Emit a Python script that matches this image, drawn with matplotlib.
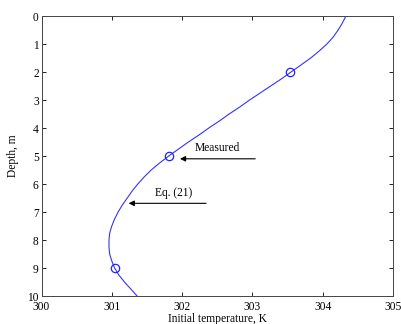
import matplotlib
matplotlib.use('Agg')
import matplotlib.pyplot as plt

plt.rcParams['font.family'] = ['Liberation Serif', 'DejaVu Serif']

# Eq. (21) profile
depth = [0, 0.25, 0.5, 0.75, 1, 1.25, 1.5, 1.75, 2, 2.25, 2.5, 2.75, 3, 3.25, 3.5, 3.75,
         4, 4.25, 4.5, 4.75, 5, 5.25, 5.5, 5.75, 6, 6.25, 6.5, 6.75, 7, 7.25, 7.5, 7.75,
         8, 8.25, 8.5, 8.75, 9, 9.25, 9.5, 9.75, 10]
temp = [304.33, 304.28, 304.22, 304.15, 304.06, 303.95, 303.83, 303.69, 303.55, 303.41,
        303.26, 303.11, 302.96, 302.82, 302.67, 302.53, 302.38, 302.24, 302.09, 301.95,
        301.81, 301.68, 301.56, 301.46, 301.37, 301.29, 301.22, 301.15, 301.09, 301.04,
        301.00, 300.97, 300.96, 300.96, 300.97, 301.00, 301.04, 301.10, 301.18, 301.27, 301.36]

meas_depth = [2, 5, 9]
meas_temp = [303.54, 301.81, 301.04]

fs = 8.3

fig = plt.figure(figsize=(4.01, 3.24), dpi=100)
ax = fig.add_axes([0.1035, 0.0864, 0.8765, 0.8642])

ax.plot(temp, depth, '-', color='#3333ff', lw=0.8)
ax.plot(meas_temp, meas_depth, 'o', mfc='none', mec='#2222ff', ms=6, mew=0.9)

ax.annotate('', xy=(301.93, 5.1), xytext=(303.08, 5.1),
            arrowprops=dict(arrowstyle='-|>', color='black', lw=0.8, mutation_scale=8))
ax.text(302.5, 4.73, 'Measured', ha='center', va='center', fontsize=fs)
ax.annotate('', xy=(301.2, 6.69), xytext=(302.38, 6.69),
            arrowprops=dict(arrowstyle='-|>', color='black', lw=0.8, mutation_scale=8))
ax.text(301.88, 6.33, 'Eq. (21)', ha='center', va='center', fontsize=fs)

ax.set_xlim(300, 305)
ax.set_ylim(10, 0)
ax.set_xticks(range(300, 306))
ax.set_yticks(range(0, 11))
ax.tick_params(direction='in', top=True, right=True, labelsize=fs, length=3, width=0.6, pad=2)
ax.tick_params(axis='x', pad=3.5)
for s in ax.spines.values():
    s.set_linewidth(0.7)
    s.set_color('#444444')
ax.set_xlabel('Initial temperature, K', fontsize=fs, labelpad=0)
ax.set_ylabel('Depth, m', fontsize=fs, labelpad=6)

fig.savefig('out.png', dpi=100)
plt.close(fig)
